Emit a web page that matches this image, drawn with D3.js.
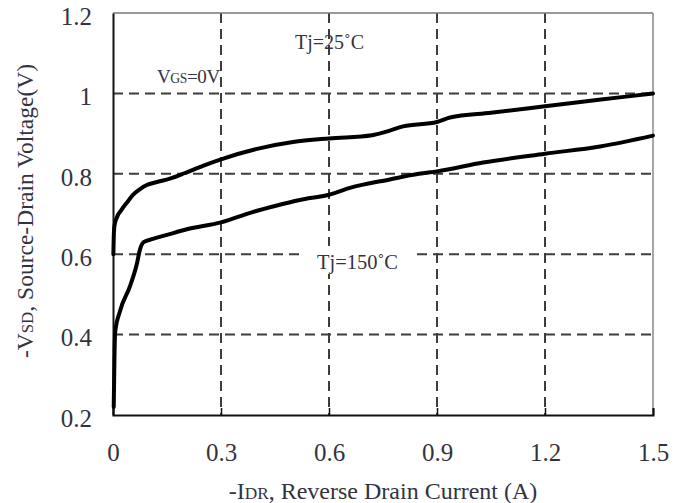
<!DOCTYPE html>
<html><head><meta charset="utf-8">
<script src="https://cdn.jsdelivr.net/npm/d3@7"></script>
<style>
html,body{margin:0;padding:0;background:#fff;}
svg{display:block;font-family:"Liberation Serif","Times New Roman",serif;}
</style></head>
<body><svg id="c" width="687" height="503"></svg>
<script>
// Data
const current25 = [0.001,0.002,0.004,0.01,0.024,0.04,0.056,0.075,0.094,0.12,0.158,0.2,0.25,0.3,0.4,0.5,0.6,0.72,0.76,0.806,0.9,0.936,1.05,1.2,1.35,1.5];
const vsd25     = [0.60,0.64,0.67,0.69,0.711,0.73,0.748,0.762,0.772,0.779,0.788,0.802,0.82,0.836,0.862,0.879,0.888,0.896,0.905,0.918,0.929,0.940,0.952,0.968,0.984,1.0];
const current150 = [0.002,0.003,0.004,0.006,0.02,0.047,0.066,0.075,0.085,0.111,0.15,0.205,0.3,0.381,0.45,0.519,0.6,0.658,0.769,0.85,0.9,1.028,1.2,1.353,1.5];
const vsd150     = [0.22,0.28,0.34,0.406,0.46,0.52,0.575,0.612,0.630,0.638,0.648,0.662,0.679,0.703,0.72,0.735,0.748,0.765,0.786,0.80,0.806,0.828,0.850,0.868,0.895];
const xTicks = [0,0.3,0.6,0.9,1.2,1.5];
const yTicks = [0.2,0.4,0.6,0.8,1.0,1.2];

const svg = d3.select("#c");
const L=113,R=653,T=13,B=415;
const x = d3.scaleLinear().domain([0,1.5]).range([L,R]);
const y = d3.scaleLinear().domain([0.2,1.2]).range([B,T]);
const txt = "#333340";

// grid
svg.append("g").selectAll("line").data(yTicks.filter(v=>v>0.2&&v<1.2)).join("line")
  .attr("x1",L).attr("x2",R).attr("y1",d=>y(d)).attr("y2",d=>y(d))
  .attr("stroke","#3c3c3c").attr("stroke-width",2).attr("stroke-dasharray","10,6");
svg.append("g").selectAll("line").data(xTicks.filter(v=>v>0&&v<1.5)).join("line")
  .attr("y1",T).attr("y2",B).attr("x1",d=>x(d)).attr("x2",d=>x(d))
  .attr("stroke","#3c3c3c").attr("stroke-width",2).attr("stroke-dasharray","10,6");

// frame
svg.append("line").attr("x1",L).attr("x2",R).attr("y1",T).attr("y2",T).attr("stroke","#777").attr("stroke-width",1.5);
svg.append("line").attr("x1",R).attr("x2",R).attr("y1",T).attr("y2",B).attr("stroke","#888").attr("stroke-width",1.5);

// axes
const xAxis = d3.axisBottom(x).tickValues(xTicks).tickSize(-7).tickPadding(20).tickFormat(d=>d===0?"0":d3.format(".1f")(d));
const gx = svg.append("g").attr("transform",`translate(0,${B})`).call(xAxis);
gx.select(".domain").attr("stroke","#111").attr("stroke-width",2);
gx.selectAll(".tick line").attr("stroke","#111").attr("stroke-width",1.5);
gx.selectAll("text").attr("font-size",25).attr("fill",txt).attr("font-family","Liberation Serif").attr("dy","0.35em").attr("y",37);

const yAxis = d3.axisLeft(y).tickValues(yTicks).tickSize(0).tickPadding(21).tickFormat(d=>d===1?"1":d3.format(".1f")(d));
const gy = svg.append("g").attr("transform",`translate(${L},0)`).call(yAxis);
gy.select(".domain").attr("stroke","#111").attr("stroke-width",2);
gy.selectAll("text").attr("font-size",25).attr("fill",txt).attr("font-family","Liberation Serif").attr("dy","0.45em");

// Tj=150 label background
svg.append("rect").attr("x",303).attr("y",246).attr("width",112).attr("height",28).attr("fill","#fff");

// curves
const line = d3.line().x(d=>x(d[0])).y(d=>y(d[1])).curve(d3.curveMonotoneX);
svg.append("path").datum(d3.zip(current25,vsd25)).attr("d",line)
  .attr("fill","none").attr("stroke","#000").attr("stroke-width",4).attr("stroke-linejoin","round").attr("stroke-linecap","round");
svg.append("path").datum(d3.zip(current150,vsd150)).attr("d",line)
  .attr("fill","none").attr("stroke","#000").attr("stroke-width",4).attr("stroke-linejoin","round").attr("stroke-linecap","round");

// annotations
function label(xp, yp, parts, size, rotate){
  const t = svg.append("text").attr("fill",txt).attr("font-size",size);
  if(rotate){ t.attr("transform",`translate(${xp},${yp}) rotate(-90)`).attr("text-anchor","middle"); }
  else { t.attr("x",xp).attr("y",yp); }
  parts.forEach(p=>{
    const s = t.append("tspan").text(p[0]);
    if(p[1]) s.attr("font-size",size*0.72);
  });
  return t;
}
label(295,49,[["Tj=25˚C"]],20);
label(157,83,[["V"],["GS",1],["=0V"]],19).attr("letter-spacing",-0.4);
label(317,269,[["Tj=150˚C"]],20.5);

const xt = label(383,499,[["-I"],["DR",1],[", Reverse Drain Current (A)"]],24);
xt.attr("text-anchor","middle");
label(33,211,[["-V"],["SD",1],[", Source-Drain Voltage(V)"]],23.5,true);
</script></body></html>
